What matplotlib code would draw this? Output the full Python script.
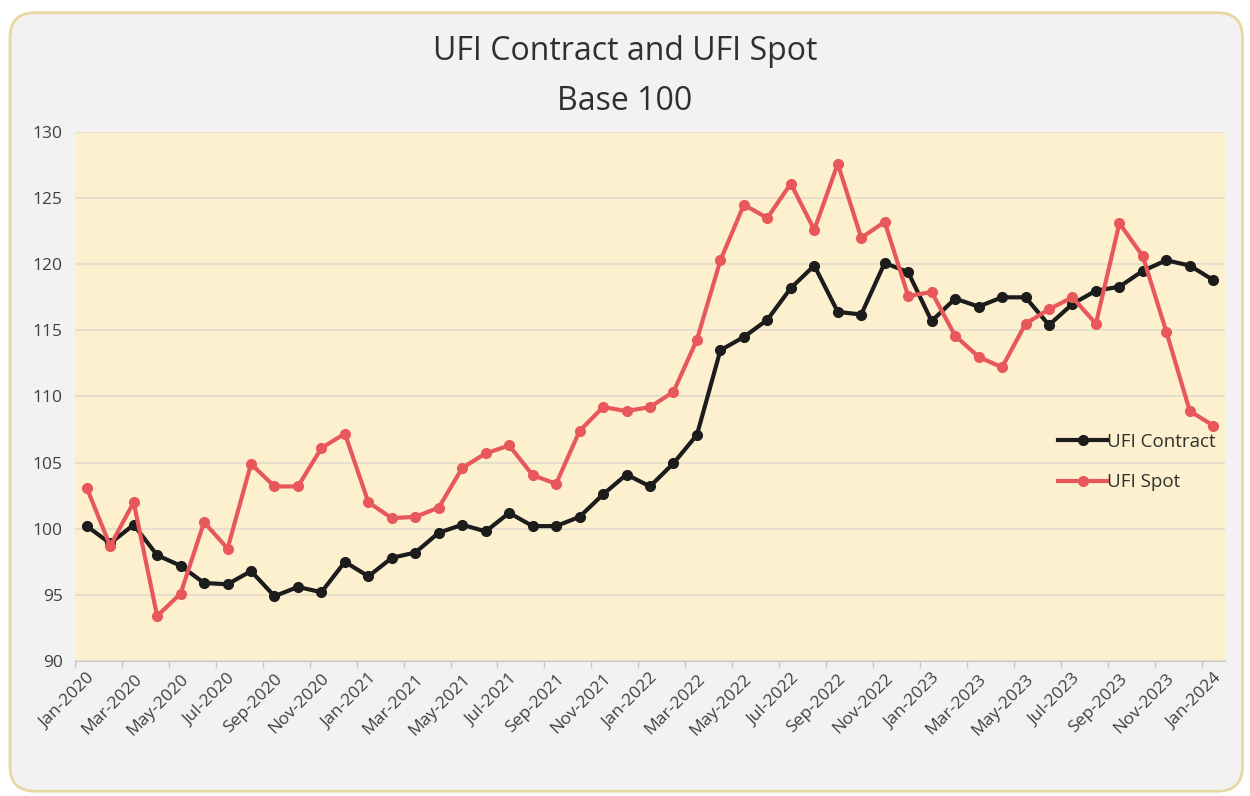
import numpy as np
import matplotlib
matplotlib.use("Agg")
import matplotlib.pyplot as plt
from matplotlib.patches import FancyBboxPatch

# monthly labels Jan-2020 .. Jan-2024
months = ["Jan", "Feb", "Mar", "Apr", "May", "Jun",
          "Jul", "Aug", "Sep", "Oct", "Nov", "Dec"]
labels = ["%s-%d" % (months[i % 12], 2020 + i // 12) for i in range(49)]

contract = [100.2, 98.9, 100.3, 98.0, 97.2, 95.9, 95.8, 96.8, 94.9, 95.6, 95.2, 97.5,
            96.4, 97.8, 98.2, 99.7, 100.3, 99.8, 101.2, 100.2, 100.2, 100.9, 102.6, 104.1,
            103.2, 104.95, 107.1, 113.5, 114.5, 115.8, 118.2, 119.9, 116.4, 116.2, 120.1, 119.4,
            115.7, 117.4, 116.8, 117.5, 117.5, 115.4, 117.0, 118.0, 118.3, 119.5, 120.3, 119.9,
            118.8]
spot = [103.1, 98.7, 102.0, 93.4, 95.1, 100.5, 98.5, 104.9, 103.2, 103.2, 106.1, 107.2,
        102.0, 100.8, 100.9, 101.6, 104.6, 105.7, 106.3, 104.05, 103.4, 107.4, 109.2, 108.9,
        109.2, 110.35, 114.3, 120.3, 124.5, 123.5, 126.1, 122.6, 127.6, 122.0, 123.2, 117.6,
        117.9, 114.6, 113.0, 112.2, 115.5, 116.6, 117.5, 115.5, 123.1, 120.6, 114.9, 108.9,
        107.8]

fig = plt.figure(figsize=(12.5, 7.96), dpi=100)
fig.patch.set_facecolor("white")
frame = FancyBboxPatch((0.008, 0.006), 0.986, 0.978, boxstyle="round,pad=0,rounding_size=0.02",
                       transform=fig.transFigure, facecolor="#f2f2f2", edgecolor="#e6d7a3",
                       linewidth=2, mutation_aspect=1250 / 796, zorder=-10)
fig.patches.append(frame)

ax = fig.add_axes([75 / 1250, 1 - 661 / 796, 1150 / 1250, 529 / 796])
ax.set_facecolor("#fdf0cf")
x = np.arange(len(labels))
ax.plot(x, contract, color="#1c1c1c", lw=3, marker="o", ms=7, label="UFI Contract", zorder=3)
ax.plot(x, spot, color="#e8585b", lw=3, marker="o", ms=7, label="UFI Spot", zorder=3)

ax.set_xlim(-0.5, 48.5)
ax.set_ylim(90, 130)
ax.set_yticks(range(90, 131, 5))
ax.grid(axis="y", color="#e2dccb", lw=1.2)
ax.set_axisbelow(True)
ax.set_xticks(np.arange(-0.5, 49, 2), minor=False)
ax.set_xticklabels([])
ax.set_xticks(x[::2], minor=True)
ax.set_xticklabels(labels[::2], minor=True, rotation=45, ha="right", rotation_mode="anchor",
                   fontsize=12.5, color="#404040", family="Open Sans")
ax.tick_params(axis="x", which="major", length=5, color="#c8c8c8", width=1)
ax.tick_params(axis="x", which="minor", length=0, pad=7)
ax.tick_params(axis="y", length=0, pad=9, labelsize=12.5, labelcolor="#404040")
for t in ax.get_yticklabels():
    t.set_family("Open Sans")
for s in ["top", "right", "left"]:
    ax.spines[s].set_visible(False)
ax.spines["bottom"].set_color("#c8c8c8")

leg = ax.legend(loc="center right", bbox_to_anchor=(1.0, 0.376), frameon=False,
                handlelength=2.6, handletextpad=0.0, labelspacing=1.2, borderaxespad=0.1,
                prop={"family": "Open Sans", "size": 13.5})
for t in leg.get_texts():
    t.set_color("#303030")

fig.text(0.5, 1 - 52 / 796, "UFI Contract and UFI Spot", ha="center", va="center",
         fontsize=23, color="#303030", family="Open Sans")
fig.text(0.5, 1 - 101 / 796, "Base 100", ha="center", va="center",
         fontsize=23, color="#303030", family="Open Sans")

fig.savefig("out.png", dpi=100, facecolor=fig.get_facecolor())
